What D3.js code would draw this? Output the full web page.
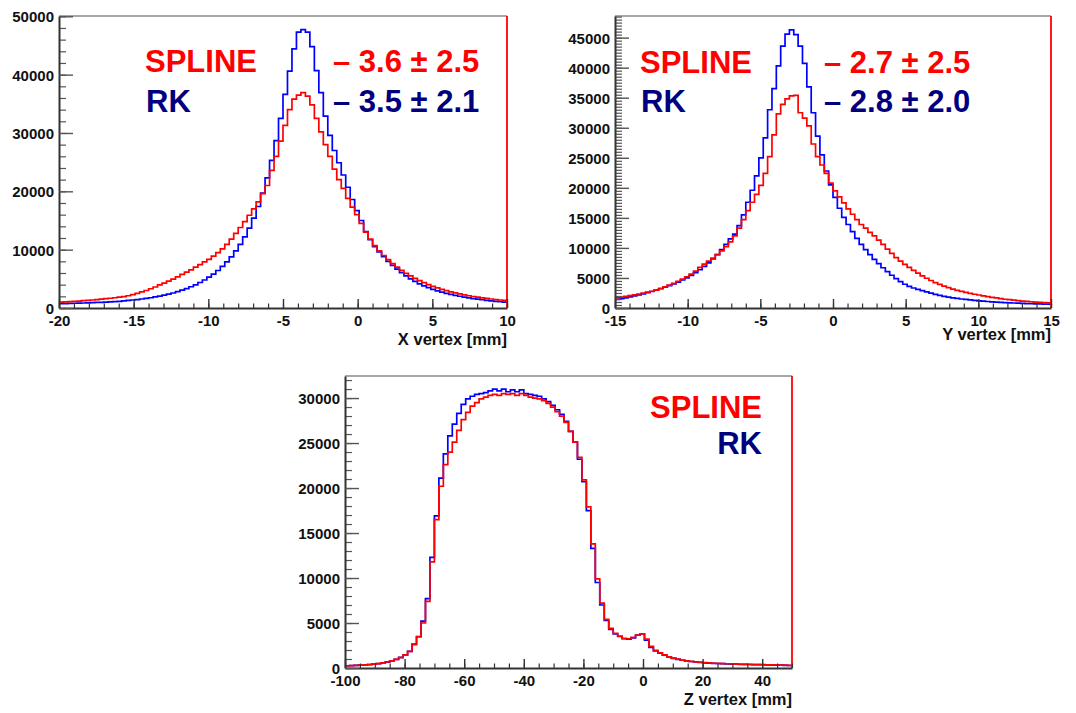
<!DOCTYPE html>
<html><head><meta charset="utf-8">
<script src="https://cdn.jsdelivr.net/npm/d3@7"></script>
<style>
body{margin:0;background:#fff}
text{font-family:"Liberation Sans",Arial,Helvetica,sans-serif;font-weight:bold}
</style>
</head><body>
<svg id="chart" width="1076" height="713"></svg>
<script>
// ---------------- DATA ----------------
// X vertex, 100 bins from -20 to 10 mm
const xRange = [-20, 10];
const xRK = [
750,760,790,810,830,860,880,910,950,980,
1010,1060,1100,1150,1220,1290,1370,1450,1540,1640,
1760,1890,2030,2190,2370,2570,2800,3050,3330,3640,
3980,4370,4800,5280,5820,6430,7120,7900,8780,9780,
10900,12200,13700,15400,17400,19700,22300,25300,28700,32500,
36600,40600,44400,47300,47700,47300,44800,40700,36900,32900,
29600,27000,24900,22800,20700,18600,16700,15000,13100,11700,
10500,9600,8800,8000,7300,6650,6050,5500,5000,4550,
4150,3800,3480,3200,2950,2720,2520,2330,2160,2010,
1870,1740,1620,1510,1410,1320,1230,1150,1080,1010];
const xSpline = [
1000,1040,1090,1140,1190,1250,1310,1370,1440,1510,
1590,1670,1760,1860,1960,2100,2280,2500,2750,3000,
3300,3600,3950,4280,4600,4950,5350,5750,6150,6550,
7000,7450,7900,8350,8900,9500,10150,10900,11800,12800,
13800,14800,15900,17000,18200,19600,21000,23600,26000,28600,
31300,34000,35800,36500,36900,36300,34800,32500,30200,28000,
26000,23800,22000,20500,18800,17300,16000,14500,13000,11800,
10700,9800,9000,8300,7600,7000,6450,5950,5500,5080,
4700,4350,4020,3720,3450,3200,2980,2770,2580,2410,
2250,2100,1970,1850,1740,1640,1540,1450,1370,1300];
const xTickValues = [-20,-15,-10,-5,0,5,10];
const xYTickValues = [0,10000,20000,30000,40000,50000];

// Y vertex, 100 bins from -15 to 15 mm
const yRange = [-15, 15];
const yRK = [
1430,1560,1700,1850,2010,2180,2360,2550,2750,2960,
3200,3450,3720,4000,4320,4660,5020,5420,5870,6370,
6920,7520,8180,8900,9700,10600,11500,12300,13700,15500,
17600,19600,22000,25000,28300,33000,36500,40300,43600,45600,
46300,45500,43600,40700,36800,32500,28600,25500,22800,20500,
18400,16600,15100,13900,12700,11600,10600,9700,8900,8100,
7400,6700,6050,5450,4900,4400,3950,3600,3330,3100,
2880,2670,2460,2270,2100,1950,1820,1700,1600,1500,
1420,1340,1270,1200,1140,1080,1030,980,940,900,
860,830,800,770,740,720,700,680,660,640];
const ySpline = [
1700,1820,1940,2060,2190,2330,2480,2630,2790,2970,
3270,3520,3800,4100,4450,4800,5200,5650,6150,6750,
7300,7800,8300,8900,9500,10200,11000,12000,13300,14700,
16200,17600,18900,20400,22400,25200,28800,32300,33900,34800,
35300,35400,32500,31600,30300,27300,25200,23800,22400,20800,
19500,18500,17500,16500,15600,14700,13900,13300,12600,12000,
11300,10600,9800,9100,8400,7800,7250,6750,6250,5800,
5350,4950,4580,4230,3920,3640,3380,3150,2950,2760,
2590,2430,2290,2160,2030,1900,1780,1670,1560,1460,
1380,1300,1230,1160,1100,1040,990,940,890,850];
const yTickValuesX = [-15,-10,-5,0,5,10,15];
const yYTickValues = [0,5000,10000,15000,20000,25000,30000,35000,40000,45000];

// Z vertex, 100 bins from -100 to 50 mm
const zRange = [-100, 50];
const zRK = [
250,270,290,310,340,380,420,480,560,660,
800,960,1180,1460,1850,2650,3500,5200,7700,12300,
16900,21100,23800,25800,27100,28300,29300,29900,30200,30400,
30500,30600,30800,31000,30800,31000,30700,30900,30700,30900,
30500,30400,30300,30200,29900,29600,29200,28700,28200,27400,
26300,25100,23200,20700,17500,13300,9500,7000,5300,4300,
3800,3500,3250,3200,3350,3650,3780,3100,2300,1900,
1650,1420,1230,1080,960,860,780,720,670,620,
580,550,520,500,480,460,440,420,410,400,
390,380,370,360,350,340,330,320,300,280];
const zSpline = [
240,260,290,320,350,390,430,490,570,670,
790,950,1160,1450,1850,2600,3450,5000,7400,11800,
16500,20200,22600,24000,25100,26400,27600,28400,29100,29500,
29900,30100,30300,30400,30300,30500,30400,30500,30300,30500,
30300,30100,30000,29900,29700,29400,29000,28500,28000,27300,
26300,25100,23400,20900,17900,13800,9900,7200,5400,4400,
3850,3550,3300,3250,3400,3650,3800,3200,2400,1950,
1680,1450,1250,1100,980,880,800,740,690,640,
600,560,530,510,490,470,450,430,415,405,
395,385,375,365,355,345,335,325,310,290];
const zTickValuesX = [-100,-80,-60,-40,-20,0,20,40];
const zYTickValues = [0,5000,10000,15000,20000,25000,30000];

const seriesNames = ["SPLINE", "RK"];
const xStats = ["\u2013 3.6 \u00b1 2.5", "\u2013 3.5 \u00b1 2.1"];
const yStats = ["\u2013 2.7 \u00b1 2.5", "\u2013 2.8 \u00b1 2.0"];

// ---------------- LAYOUT ----------------
const RED = "#ff0000", BLUE = "#0000ff", NAVY = "#00007f";
const panels = [
  {range:xRange, rk:xRK, sp:xSpline, yMax:50050, xt:xTickValues, xMinor:1, yt:xYTickValues, yMinor:2000,
   title:"X vertex [mm]", L:59, R:507, T:16, B:308, titleY:345},
  {range:yRange, rk:yRK, sp:ySpline, yMax:48600, xt:yTickValuesX, xMinor:1, yt:yYTickValues, yMinor:500,
   title:"Y vertex [mm]", L:615, R:1051, T:16, B:308, titleY:340},
  {range:zRange, rk:zRK, sp:zSpline, yMax:32450, xt:zTickValuesX, xMinor:5, yt:zYTickValues, yMinor:1000,
   title:"Z vertex [mm]", L:345, R:792, T:376, B:668, titleY:705}
];

const svg = d3.select("#chart");
const fmt = d => String(d);   // plain hyphen minus, as in the reference

panels.forEach(p => {
  const x = d3.scaleLinear().domain(p.range).range([p.L, p.R]);
  const y = d3.scaleLinear().domain([0, p.yMax]).range([p.B, p.T]);
  const g = svg.append("g");
  const n = p.rk.length;
  const w = (p.range[1] - p.range[0]) / n;

  // frame top
  g.append("line").attr("x1", p.L).attr("x2", p.R).attr("y1", p.T).attr("y2", p.T)
    .attr("stroke", "#8a8a8a").attr("stroke-width", 1.6);

  // histograms
  const line = d3.line().x(d => x(d[0])).y(d => y(d[1])).curve(d3.curveStepAfter);
  function pts(vals) {
    const a = vals.map((v, i) => [p.range[0] + i * w, v]);
    a.push([p.range[1], vals[vals.length - 1]]);
    return a;
  }
  g.append("path").attr("d", line(pts(p.rk))).attr("fill", "none")
    .attr("stroke", BLUE).attr("stroke-width", 1.7);
  g.append("path").attr("d", line(pts(p.sp))).attr("fill", "none")
    .attr("stroke", RED).attr("stroke-width", 1.7);

  g.append("line").attr("x1", p.R).attr("x2", p.R).attr("y1", p.T).attr("y2", p.B)
    .attr("stroke", RED).attr("stroke-width", 1.8);

  // minor ticks
  const xMinorVals = d3.range(p.range[0], p.range[1] + 1e-9, p.xMinor);
  const yMinorVals = d3.range(0, p.yMax, p.yMinor);
  g.append("g").attr("transform", `translate(0,${p.B})`)
    .call(d3.axisBottom(x).tickValues(xMinorVals).tickSize(-4.5).tickSizeOuter(0).tickFormat(""))
    .call(s => s.select(".domain").remove())
    .selectAll("line").attr("stroke", "#333").attr("stroke-width", 1.2);
  g.append("g").attr("transform", `translate(${p.L},0)`)
    .call(d3.axisLeft(y).tickValues(yMinorVals).tickSize(-7).tickSizeOuter(0).tickFormat(""))
    .call(s => s.select(".domain").remove())
    .selectAll("line").attr("stroke", "#555").attr("stroke-width", 1.2);

  // major axes
  const xa = g.append("g").attr("transform", `translate(0,${p.B})`)
    .call(d3.axisBottom(x).tickValues(p.xt).tickSize(-9).tickSizeOuter(0).tickPadding(7).tickFormat(fmt));
  xa.select(".domain").attr("stroke", "#333").attr("stroke-width", 2);
  xa.selectAll("line").attr("stroke", "#333").attr("stroke-width", 1.4);
  xa.selectAll("text").attr("font-size", 15).attr("fill", "#111")
    .attr("dy", null).attr("y", 18);

  const ya = g.append("g").attr("transform", `translate(${p.L},0)`)
    .call(d3.axisLeft(y).tickValues(p.yt).tickSize(-14).tickSizeOuter(0).tickPadding(5).tickFormat(fmt));
  ya.select(".domain").attr("stroke", "#333").attr("stroke-width", 2);
  ya.selectAll("line").attr("stroke", "#555").attr("stroke-width", 1.4);
  ya.selectAll("text").attr("font-size", 15).attr("fill", "#111").attr("dy", "0.36em");
  xa.attr("font-family", null).attr("font-size", null);
  ya.attr("font-family", null).attr("font-size", null);

  // axis title
  g.append("text").attr("x", p.R).attr("y", p.titleY).attr("text-anchor", "end")
    .attr("font-size", 16.5).attr("fill", "#111").text(p.title);
});

// annotations
function label(xp, yp, txt, col, anchor) {
  svg.append("text").attr("x", xp).attr("y", yp).attr("text-anchor", anchor || "start")
    .attr("font-size", 31).attr("fill", col).text(txt);
}
label(145, 72, seriesNames[0], RED);
label(146, 111.5, seriesNames[1], NAVY);
label(333, 72, xStats[0], RED);
label(333, 111.5, xStats[1], NAVY);

label(640, 72.5, seriesNames[0], RED);
label(641, 111.5, seriesNames[1], NAVY);
label(824, 72.5, yStats[0], RED);
label(824, 111.5, yStats[1], NAVY);

label(762, 418, seriesNames[0], RED, "end");
label(762, 454, seriesNames[1], NAVY, "end");
</script>
</body></html>
